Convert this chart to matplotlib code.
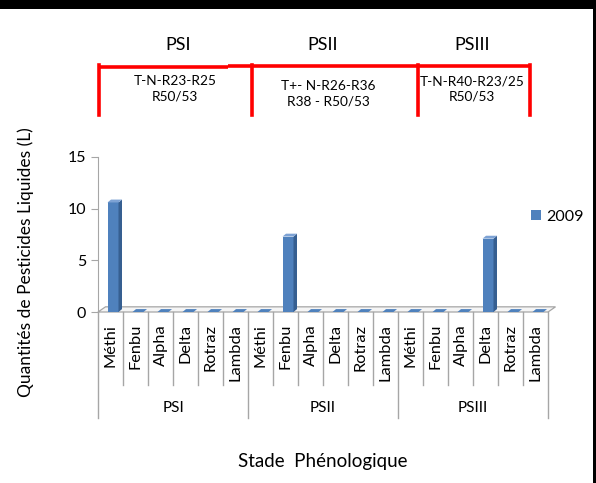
import matplotlib
matplotlib.use("Agg")
import matplotlib.pyplot as plt
from matplotlib.patches import Polygon, Rectangle, Patch
from matplotlib.transforms import blended_transform_factory

# ── Data ────────────────────────────────────────────────────
stages = ["PSI", "PSII", "PSIII"]
pesticides = ["Méthi", "Fenbu", "Alpha", "Delta", "Rotraz", "Lambda"]
q_2009 = [
    [10.6, 0, 0, 0, 0, 0],   # PSI
    [0, 7.3, 0, 0, 0, 0],    # PSII
    [0, 0, 0, 7.1, 0, 0],    # PSIII
]
risk_codes = ["T-N-R23-R25\nR50/53",
              "T+- N-R26-R36\nR38 - R50/53",
              "T-N-R40-R23/25\nR50/53"]
y_ticks = [0, 5, 10, 15]

# ── Style ───────────────────────────────────────────────────
C_FRONT = "#4F81BD"
C_SIDE = "#365F91"
C_TOP = "#7DA2D4"
C_GRID = "#A6A6A6"
C_RED = "#FF0000"
plt.rcParams["font.family"] = ["Lato", "DejaVu Sans"]

W, H = 596, 483
fig = plt.figure(figsize=(W / 100, H / 100), dpi=100)
fig.patch.set_facecolor("white")

def fx(px):
    return px / W

def fy(py):
    return 1 - py / H

# plot area: x 98..548 px, y 312 (0) .. 157 (15)
ax = fig.add_axes([fx(98), fy(312), fx(548) - fx(98), fy(157) - fy(312)])
n_cat = len(stages) * len(pesticides)
ax.set_xlim(0, n_cat)
ax.set_ylim(0, 15)
for s in ["top", "right", "bottom"]:
    ax.spines[s].set_visible(False)
ax.spines["left"].set_color(C_GRID)
ax.set_yticks(y_ticks)
ax.tick_params(axis="y", colors=C_GRID, length=5, labelsize=11.5, labelcolor="black")
ax.set_xticks([])

# 3D floor
dxf, dyf = 0.3, 0.5
floor = Polygon([(0, 0), (n_cat, 0), (n_cat + dxf, dyf), (dxf, dyf)],
                closed=True, facecolor="#F5F5F5", edgecolor=C_GRID, lw=0.9, clip_on=False, zorder=1)
ax.add_patch(floor)

# 3D bars
bw, dx, dy = 0.44, 0.14, 0.28
values = [v for grp in q_2009 for v in grp]
for i, v in enumerate(values):
    x0 = i + 0.38
    ax.bar(x0, v, width=bw, align="edge", color=C_FRONT, edgecolor="none", zorder=3, clip_on=False)
    ax.add_patch(Polygon([(x0 + bw, 0), (x0 + bw + dx, dy), (x0 + bw + dx, v + dy), (x0 + bw, v)],
                         closed=True, facecolor=C_SIDE, edgecolor="none", zorder=3, clip_on=False))
    ax.add_patch(Polygon([(x0, v), (x0 + bw, v), (x0 + bw + dx, v + dy), (x0 + dx, v + dy)],
                         closed=True, facecolor=C_TOP if v > 0 else C_FRONT,
                         edgecolor="none", zorder=4, clip_on=False))

# category axis: rotated names, separators and stage names
trans = blended_transform_factory(ax.transData, fig.transFigure)
for i in range(n_cat + 1):
    bottom = 418 if i % len(pesticides) == 0 else 385
    ax.plot([i, i], [fy(312), fy(bottom)], color=C_GRID, lw=1, transform=trans, clip_on=False)
for g, stage in enumerate(stages):
    for j, name in enumerate(pesticides):
        ax.text(g * len(pesticides) + j + 0.5, fy(324), name, rotation=90, ha="center", va="top",
                fontsize=11.8, transform=trans)
    ax.text(g * len(pesticides) + len(pesticides) / 2, fy(408), stage, ha="center", va="center",
            fontsize=11, transform=trans)

fig.text(fx(26), fy(262), "Quantités de Pesticides Liquides (L)", rotation=90,
         ha="center", va="center", fontsize=12.5)
fig.text(fx(323), fy(462), "Stade  Phénologique", ha="center", va="center", fontsize=13.5)

# legend
fig.legend(handles=[Patch(facecolor=C_FRONT, label="2009")], loc="center left",
           bbox_to_anchor=(fx(517), fy(217)), frameon=False, fontsize=11.5,
           handlelength=0.6, handleheight=0.6, handletextpad=0.3)

# stage header with red bracket and risk phrases
for x_px, stage in zip([178, 323, 472], stages):
    fig.text(fx(x_px), fy(45), stage, ha="center", va="center", fontsize=13)
for x_px, y_px, code in zip([175, 328, 472], [89, 94, 89], risk_codes):
    fig.text(fx(x_px), fy(y_px), code, ha="center", va="center", fontsize=9.8, linespacing=1.35)
fig.add_artist(plt.Line2D([fx(98), fx(228)], [fy(66.5), fy(66.5)], color=C_RED, lw=2.6,
                          solid_capstyle="butt"))
fig.add_artist(plt.Line2D([fx(228), fx(531)], [fy(65.5), fy(65.5)], color=C_RED, lw=2.6,
                          solid_capstyle="butt"))
for x_px in [99, 252, 418, 530]:
    fig.add_artist(plt.Line2D([fx(x_px), fx(x_px)], [fy(65), fy(115)], color=C_RED, lw=2.6))

# black frame edges
fig.add_artist(Rectangle((0, fy(9)), 1, fy(0) - fy(9), transform=fig.transFigure,
                         facecolor="black", edgecolor="none"))
fig.add_artist(Rectangle((fx(593), 0), fx(3), 1, transform=fig.transFigure,
                         facecolor="black", edgecolor="none"))

fig.savefig("out.png", dpi=100)
